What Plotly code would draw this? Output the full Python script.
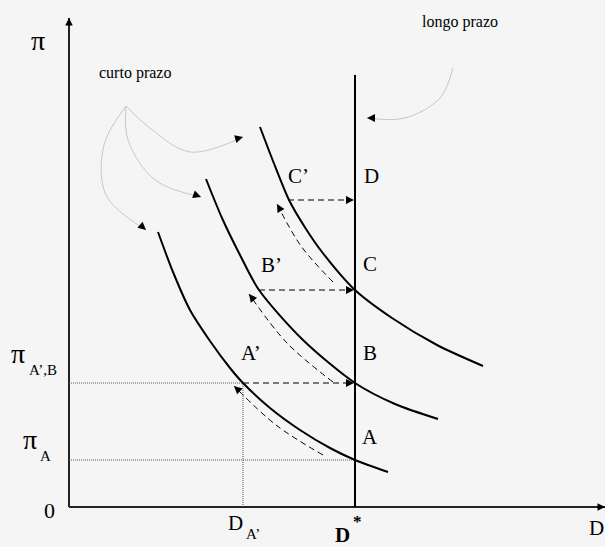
import plotly.graph_objects as go

# ---- data (schematic units: D horizontally, pi vertically) ----
D_star = 286
pi_A = 47
pi_AB = 124
D_A1 = 174
D_max = 536
pi_max = 489
lr_top = 432

# short-run curves (D, pi)
c1_D = [89, 104, 121, 141, 161, 174, 201, 231, 261, 286, 319]
c1_pi = [275, 235, 197, 166, 139, 124, 99, 77, 59, 47, 35]
c2_D = [137, 153, 171, 190, 234, 286, 326, 369]
c2_pi = [328, 289, 252, 217, 167, 124, 103, 88]
c3_D = [191, 204, 220, 237, 253, 286, 323, 368, 414]
c3_pi = [380, 346, 307, 278, 255, 217, 189, 162, 141]

# horizontal moves prime point -> long-run line
h_from = [174, 190, 219]
h_pi = [124, 217, 307]

# dashed curved moves along the curves
a1_D = [254, 207, 165]
a1_pi = [52, 82, 121]
a2_D = [264, 218, 180]
a2_pi = [125, 164, 213]
a3_D = [264, 232, 208]
a3_pi = [225, 261, 303]

# grey pointer arcs
g1_D = [57, 81, 121, 174]
g1_pi = [401, 379, 355, 370]
g2_D = [57, 59, 86, 132]
g2_pi = [401, 367, 327, 310]
g3_D = [57, 35, 37, 77]
g3_pi = [401, 362, 312, 277]
g4_D = [384, 371, 336, 298]
g4_pi = [439, 409, 389, 389]

FONT = "Liberation Serif"
BG = "#f5f5f5"
fig = go.Figure()

def line(x, y, width=2, color="black", dash=None, shape="linear", smoothing=1.0):
    fig.add_trace(go.Scatter(x=x, y=y, mode="lines", hoverinfo="skip",
                             line=dict(color=color, width=width, dash=dash, shape=shape, smoothing=smoothing)))

def head(x, y, x0, y0, size=1.6):
    # arrow head at (x,y) pointing from (x0,y0)
    dx, dy = x - x0, y - y0
    n = (dx * dx + dy * dy) ** 0.5
    fig.add_annotation(x=x, y=y, ax=-dx / n * 9, ay=dy / n * 9, axref="pixel", ayref="pixel",
                       text="", showarrow=True, arrowhead=2, arrowsize=size, arrowwidth=1,
                       arrowcolor="black", standoff=0)

# axes
line([0, 0], [0, pi_max], width=2, color="#222")
line([0, D_max], [0, 0], width=2, color="#222")
head(0, pi_max, 0, pi_max - 10, 1.5)
head(D_max, 0, D_max - 10, 0, 1.5)

# dotted guides
line([0, D_A1], [pi_AB, pi_AB], width=0.9, color="#444", dash="1px,1px")
line([D_A1, D_A1], [0, pi_AB], width=0.9, color="#444", dash="1px,1px")
line([0, D_star], [pi_A, pi_A], width=0.9, color="#444", dash="1px,1px")

# long-run vertical
line([D_star, D_star], [0, lr_top], width=2)

# short-run curves
for cx, cy in [(c1_D, c1_pi), (c2_D, c2_pi), (c3_D, c3_pi)]:
    line(cx, cy, width=2, shape="spline", smoothing=0.8)

# horizontal dashed arrows
for x0, yv in zip(h_from, h_pi):
    line([x0, D_star - 4], [yv, yv], width=1.2, dash="6px,4px")
    head(D_star - 1, yv, D_star - 11, yv)

# dashed curved arrows
for ax_, ay_ in [(a1_D, a1_pi), (a2_D, a2_pi), (a3_D, a3_pi)]:
    line(ax_, ay_, width=1, dash="6px,4px", shape="spline")
    head(ax_[-1], ay_[-1], ax_[-2], ay_[-2])

# grey pointer arcs
for gx, gy in [(g1_D, g1_pi), (g2_D, g2_pi), (g3_D, g3_pi), (g4_D, g4_pi)]:
    line(gx, gy, width=0.8, color="#bbbbbb", shape="spline")
    head(gx[-1], gy[-1], gx[-2], gy[-2])

def txt(x, y, s, size=21, bold=False, xanchor="center"):
    if bold:
        s = "<b>" + s + "</b>"
    fig.add_annotation(x=x, y=y, text=s, showarrow=False, xanchor=xanchor, yanchor="middle",
                       font=dict(family=FONT, size=size, color="black"))

txt(-31, 467, "π", 28)
txt(66, 434, "curto prazo", 16)
txt(391, 485, "longo prazo", 16)
txt(302, 331, "D")
txt(229, 331, "C’")
txt(301, 243, "C")
txt(202, 242, "B’")
txt(301, 154, "B")
txt(182, 154, "A’")
txt(301, 70, "A")
txt(-51, 154, "π", 28)
txt(-26, 137, "A’,B", 15)
txt(-39, 68, "π", 28)
txt(-24, 51, "A", 15)
txt(-20, -3, "0", 22)
txt(166, -16, "D", 21)
txt(184, -27, "A’", 15)
txt(273, -28, "D", 21, bold=True)
txt(288, -14, "*", 17, bold=True)
txt(518, -21, "D", 21, xanchor="left")

fig.update_layout(
    width=605, height=547, margin=dict(l=0, r=0, t=0, b=0),
    paper_bgcolor=BG, plot_bgcolor=BG, showlegend=False,
    xaxis=dict(range=[-69, 536], visible=False, fixedrange=True),
    yaxis=dict(range=[-40, 507], visible=False, fixedrange=True),
)
fig.write_html("out.html", config={"displayModeBar": False},
               post_script="document.body.style.margin='0';document.body.style.overflow='hidden';"
                           "document.body.style.background='" + BG + "';")
